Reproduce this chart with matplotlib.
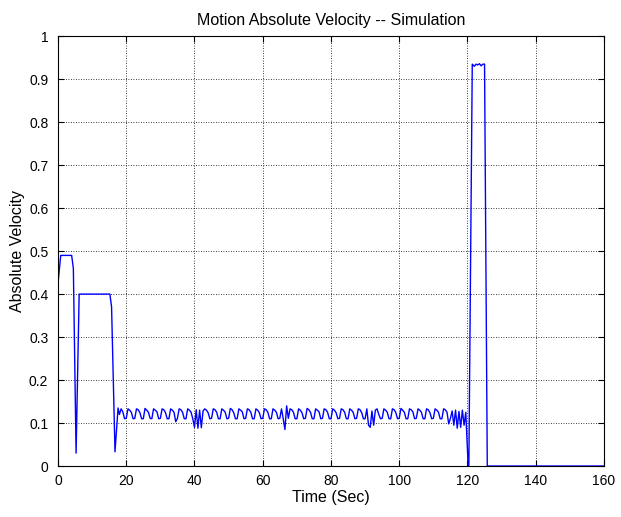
"""
Motion absolute velocity from the simulation, MATLAB-style figure.
"""

import numpy as np
import matplotlib

matplotlib.use("Agg")
import matplotlib.pyplot as plt

FONT = "Liberation Sans"
FONTSIZE = 10
LABELSIZE = 11.5

# start-up: two plateaus with dips between them
time_head = [0.0, 0.8, 4.0, 4.5, 5.3, 6.2, 15.2, 15.7, 16.7, 17.6]
vel_head = [0.425, 0.49, 0.49, 0.46, 0.03, 0.40, 0.40, 0.37, 0.033, 0.135]

# cruise section, sampled every 0.5 s from 18.0 to 119.0
time_cruise = np.arange(18.0, 119.01, 0.5)
vel_cruise = [
    0.120, 0.133, 0.126, 0.110, 0.111,  # 18.0
    0.133, 0.130, 0.125, 0.110, 0.111,  # 20.5
    0.133, 0.131, 0.124, 0.110, 0.110,  # 23.0
    0.134, 0.130, 0.125, 0.111, 0.110,  # 25.5
    0.133, 0.130, 0.126, 0.110, 0.111,  # 28.0
    0.133, 0.131, 0.124, 0.110, 0.110,  # 30.5
    0.133, 0.130, 0.125, 0.103, 0.111,  # 33.0
    0.133, 0.131, 0.125, 0.110, 0.110,  # 35.5
    0.133, 0.130, 0.125, 0.110, 0.090,  # 38.0
    0.131, 0.088, 0.130, 0.089, 0.128,  # 40.5
    0.133, 0.130, 0.124, 0.110, 0.111,  # 43.0
    0.133, 0.131, 0.125, 0.110, 0.110,  # 45.5
    0.133, 0.130, 0.125, 0.110, 0.111,  # 48.0
    0.134, 0.131, 0.124, 0.110, 0.110,  # 50.5
    0.133, 0.130, 0.126, 0.110, 0.111,  # 53.0
    0.133, 0.131, 0.125, 0.110, 0.110,  # 55.5
    0.133, 0.130, 0.124, 0.110, 0.111,  # 58.0
    0.133, 0.131, 0.125, 0.110, 0.110,  # 60.5
    0.133, 0.130, 0.125, 0.110, 0.111,  # 63.0
    0.133, 0.110, 0.085, 0.140, 0.111,  # 65.5
    0.133, 0.131, 0.125, 0.110, 0.110,  # 68.0
    0.133, 0.130, 0.124, 0.110, 0.111,  # 70.5
    0.134, 0.131, 0.125, 0.110, 0.110,  # 73.0
    0.133, 0.130, 0.126, 0.110, 0.111,  # 75.5
    0.133, 0.131, 0.125, 0.110, 0.110,  # 78.0
    0.133, 0.130, 0.124, 0.110, 0.111,  # 80.5
    0.133, 0.131, 0.125, 0.110, 0.110,  # 83.0
    0.133, 0.130, 0.125, 0.110, 0.111,  # 85.5
    0.133, 0.131, 0.124, 0.110, 0.110,  # 88.0
    0.133, 0.095, 0.090, 0.128, 0.095,  # 90.5
    0.130, 0.133, 0.120, 0.110, 0.111,  # 93.0
    0.133, 0.130, 0.125, 0.110, 0.110,  # 95.5
    0.133, 0.131, 0.124, 0.110, 0.111,  # 98.0
    0.134, 0.130, 0.125, 0.110, 0.110,  # 100.5
    0.133, 0.131, 0.126, 0.110, 0.111,  # 103.0
    0.133, 0.130, 0.125, 0.110, 0.110,  # 105.5
    0.133, 0.131, 0.124, 0.110, 0.111,  # 108.0
    0.133, 0.130, 0.125, 0.110, 0.110,  # 110.5
    0.133, 0.131, 0.125, 0.098, 0.111,  # 113.0
    0.128, 0.095, 0.130, 0.088, 0.127,  # 115.5
    0.090, 0.130, 0.095,                # 118.0
]

# stop, fast burst, stop
time_tail = [119.5, 120.2, 120.4, 121.4, 122.0, 122.5, 123.0, 123.5,
             124.0, 124.5, 125.0, 125.8, 160.0]
vel_tail = [0.125, 0.0, 0.0, 0.935, 0.930, 0.935, 0.933, 0.936,
            0.931, 0.935, 0.935, 0.0, 0.0]

time = np.concatenate([time_head, time_cruise, time_tail])
velocity = np.concatenate([vel_head, vel_cruise, vel_tail])

plt.rcParams["font.family"] = [FONT, "DejaVu Sans"]

fig = plt.figure(figsize=(6.21, 5.17), dpi=100)
ax = fig.add_axes([0.0934, 0.0986, 0.8792, 0.8314])

ax.plot(time, velocity, color="blue", linewidth=1.0)

ax.set_xlim(0, 160)
ax.set_ylim(0, 1)
ax.set_xticks(np.arange(0, 161, 20))
ax.set_yticks(np.arange(0, 1.01, 0.1))
ax.set_yticklabels(["0", "0.1", "0.2", "0.3", "0.4", "0.5",
                    "0.6", "0.7", "0.8", "0.9", "1"])
ax.tick_params(direction="in", top=True, right=True, length=4, pad=7,
               labelsize=FONTSIZE, colors="black")
ax.tick_params(axis="x", pad=6)
ax.grid(True, color="black", linestyle=(0, (1, 2)), linewidth=0.6)
for spine in ax.spines.values():
    spine.set_linewidth(0.8)

ax.set_title("Motion Absolute Velocity -- Simulation", fontsize=LABELSIZE, pad=8)
ax.set_xlabel("Time (Sec)", fontsize=LABELSIZE, labelpad=1)
ax.set_ylabel("Absolute Velocity", fontsize=LABELSIZE, labelpad=3)

fig.savefig("out.png", dpi=100, facecolor="white")
plt.close(fig)
